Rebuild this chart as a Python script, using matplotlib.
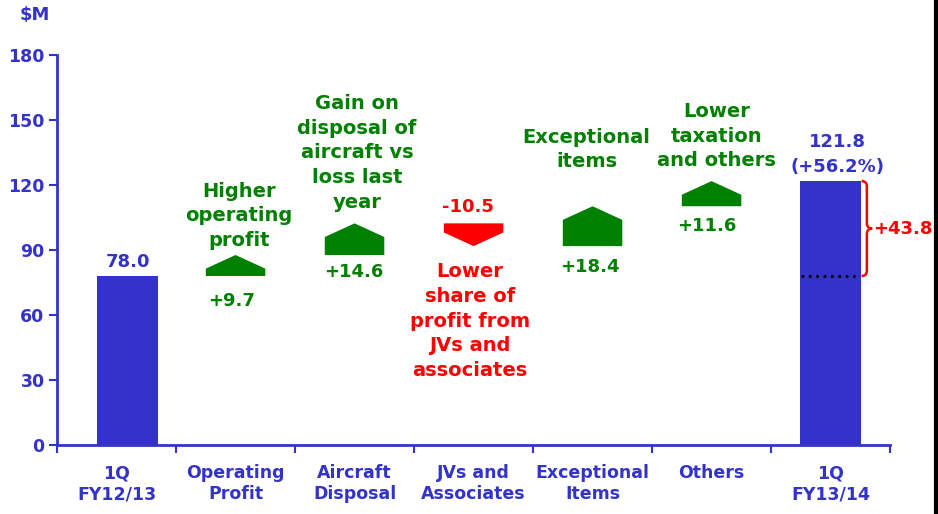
import matplotlib.pyplot as plt
from matplotlib.patches import Polygon, PathPatch
from matplotlib.path import Path
from matplotlib.lines import Line2D

# data
categories = ['1Q\nFY12/13', 'Operating\nProfit', 'Aircraft\nDisposal', 'JVs and\nAssociates',
              'Exceptional\nItems', 'Others', '1Q\nFY13/14']
start_val = 78.0
end_val = 121.8
changes = [9.7, 14.6, -10.5, 18.4, 11.6]
change_labels = ['+9.7', '+14.6', '-10.5', '+18.4', '+11.6']
notes = ['Higher\noperating\nprofit', 'Gain on\ndisposal of\naircraft vs\nloss last\nyear',
         'Lower\nshare of\nprofit from\nJVs and\nassociates', 'Exceptional\nitems',
         'Lower\ntaxation\nand others']
growth_label = '(+56.2%)'
diff_label = '+43.8'
yticks = [0, 30, 60, 90, 120, 150, 180]

blue = '#3333cc'
green = '#008000'
red = '#ff0000'

plt.rcParams['font.family'] = 'DejaVu Sans'
plt.rcParams['font.weight'] = 'bold'

fig = plt.figure(figsize=(9.38, 5.14), dpi=100)
ax = fig.add_axes([0.0608, 0.1342, 0.8881, 0.7588])

# totals
ax.bar([0.09, 6.0], [start_val, end_val], width=0.51, color=blue, zorder=2)

# increment arrows
head = 6.3
hw = 0.25
level = start_val
for i, d in enumerate(changes):
    c = i + 1
    s, e = level, level + d
    if d > 0:
        pts = [(c - hw, s), (c + hw, s), (c + hw, e - head), (c, e), (c - hw, e - head)]
        col = green
    else:
        pts = [(c - hw, s), (c + hw, s), (c + hw, e + head), (c, e), (c - hw, e + head)]
        col = red
    ax.add_patch(Polygon(pts, closed=True, color=col, lw=0, zorder=2))
    level = e

# change value labels
fs = 13
ax.text(0.97, 66.5, change_labels[0], color=green, ha='center', va='center', fontsize=fs)
ax.text(1.99, 79.8, change_labels[1], color=green, ha='center', va='center', fontsize=fs)
ax.text(2.95, 109.8, change_labels[2], color=red, ha='center', va='center', fontsize=fs)
ax.text(3.98, 82.2, change_labels[3], color=green, ha='center', va='center', fontsize=fs)
ax.text(4.96, 101.1, change_labels[4], color=green, ha='center', va='center', fontsize=fs)

# explanatory notes
nfs = 14
ls = 1.37
ax.text(1.03, 105.7, notes[0], color=green, ha='center', va='center', fontsize=nfs, linespacing=ls)
ax.text(2.02, 134.8, notes[1], color=green, ha='center', va='center', fontsize=nfs, linespacing=ls)
ax.text(2.97, 57.2, notes[2], color=red, ha='center', va='center', fontsize=nfs, linespacing=ls)
ax.text(3.95, 136.4, notes[3], color=green, ha='center', va='center', fontsize=nfs, linespacing=ls)
ax.text(5.04, 142.6, notes[4], color=green, ha='center', va='center', fontsize=nfs, linespacing=ls)

# total labels
ax.text(0.10, 84.5, f'{start_val:.1f}', color=blue, ha='center', va='center', fontsize=fs)
ax.text(6.06, 139.8, f'{end_val:.1f}', color=blue, ha='center', va='center', fontsize=fs)
ax.text(6.06, 128.3, growth_label, color=blue, ha='center', va='center', fontsize=fs)

# dotted reference line and brace
ax.plot([5.75, 6.25], [start_val, start_val], ls=':', color='black', lw=2, zorder=3)
x0, x1, x2 = 6.26, 6.305, 6.35
ym = (start_val + end_val) / 2
r = 2.5
verts = [(x0, end_val), (x1, end_val), (x1, end_val - r),
         (x1, ym + r), (x1, ym), (x2, ym),
         (x1, ym), (x1, ym - r),
         (x1, start_val + r), (x1, start_val), (x0, start_val)]
codes = [Path.MOVETO, Path.CURVE3, Path.CURVE3,
         Path.LINETO, Path.CURVE3, Path.CURVE3,
         Path.CURVE3, Path.CURVE3,
         Path.LINETO, Path.CURVE3, Path.CURVE3]
ax.add_patch(PathPatch(Path(verts, codes), fill=False, edgecolor=red, lw=1.8, clip_on=False))
ax.text(6.355, ym, diff_label, color=red, ha='left', va='center', fontsize=fs, clip_on=False)

# axes styling
ax.set_xlim(-0.5, 6.5)
ax.set_ylim(0, 180)
ax.set_yticks(yticks)
ax.set_xticks([i - 0.5 for i in range(8)])
ax.set_xticklabels([])
ax.set_xticks(range(7), minor=True)
ax.set_xticklabels(categories, minor=True, color=blue, fontsize=12.5, linespacing=1.2)
ax.tick_params(axis='x', which='minor', length=0, pad=14)
ax.tick_params(axis='x', which='major', length=6, width=1.5, color=blue)
ax.tick_params(axis='y', length=6, width=1.5, color=blue, labelcolor=blue, labelsize=12.5, pad=3)
for sp in ['top', 'right']:
    ax.spines[sp].set_visible(False)
for sp in ['left', 'bottom']:
    ax.spines[sp].set_color(blue)
    ax.spines[sp].set_linewidth(2)

fig.text(0.037, 0.971, '$M', color=blue, ha='center', va='center', fontsize=13)
fig.add_artist(Line2D([0.9975, 0.9975], [0, 1], color='black', lw=3, transform=fig.transFigure))

fig.savefig('out.png', dpi=100)
